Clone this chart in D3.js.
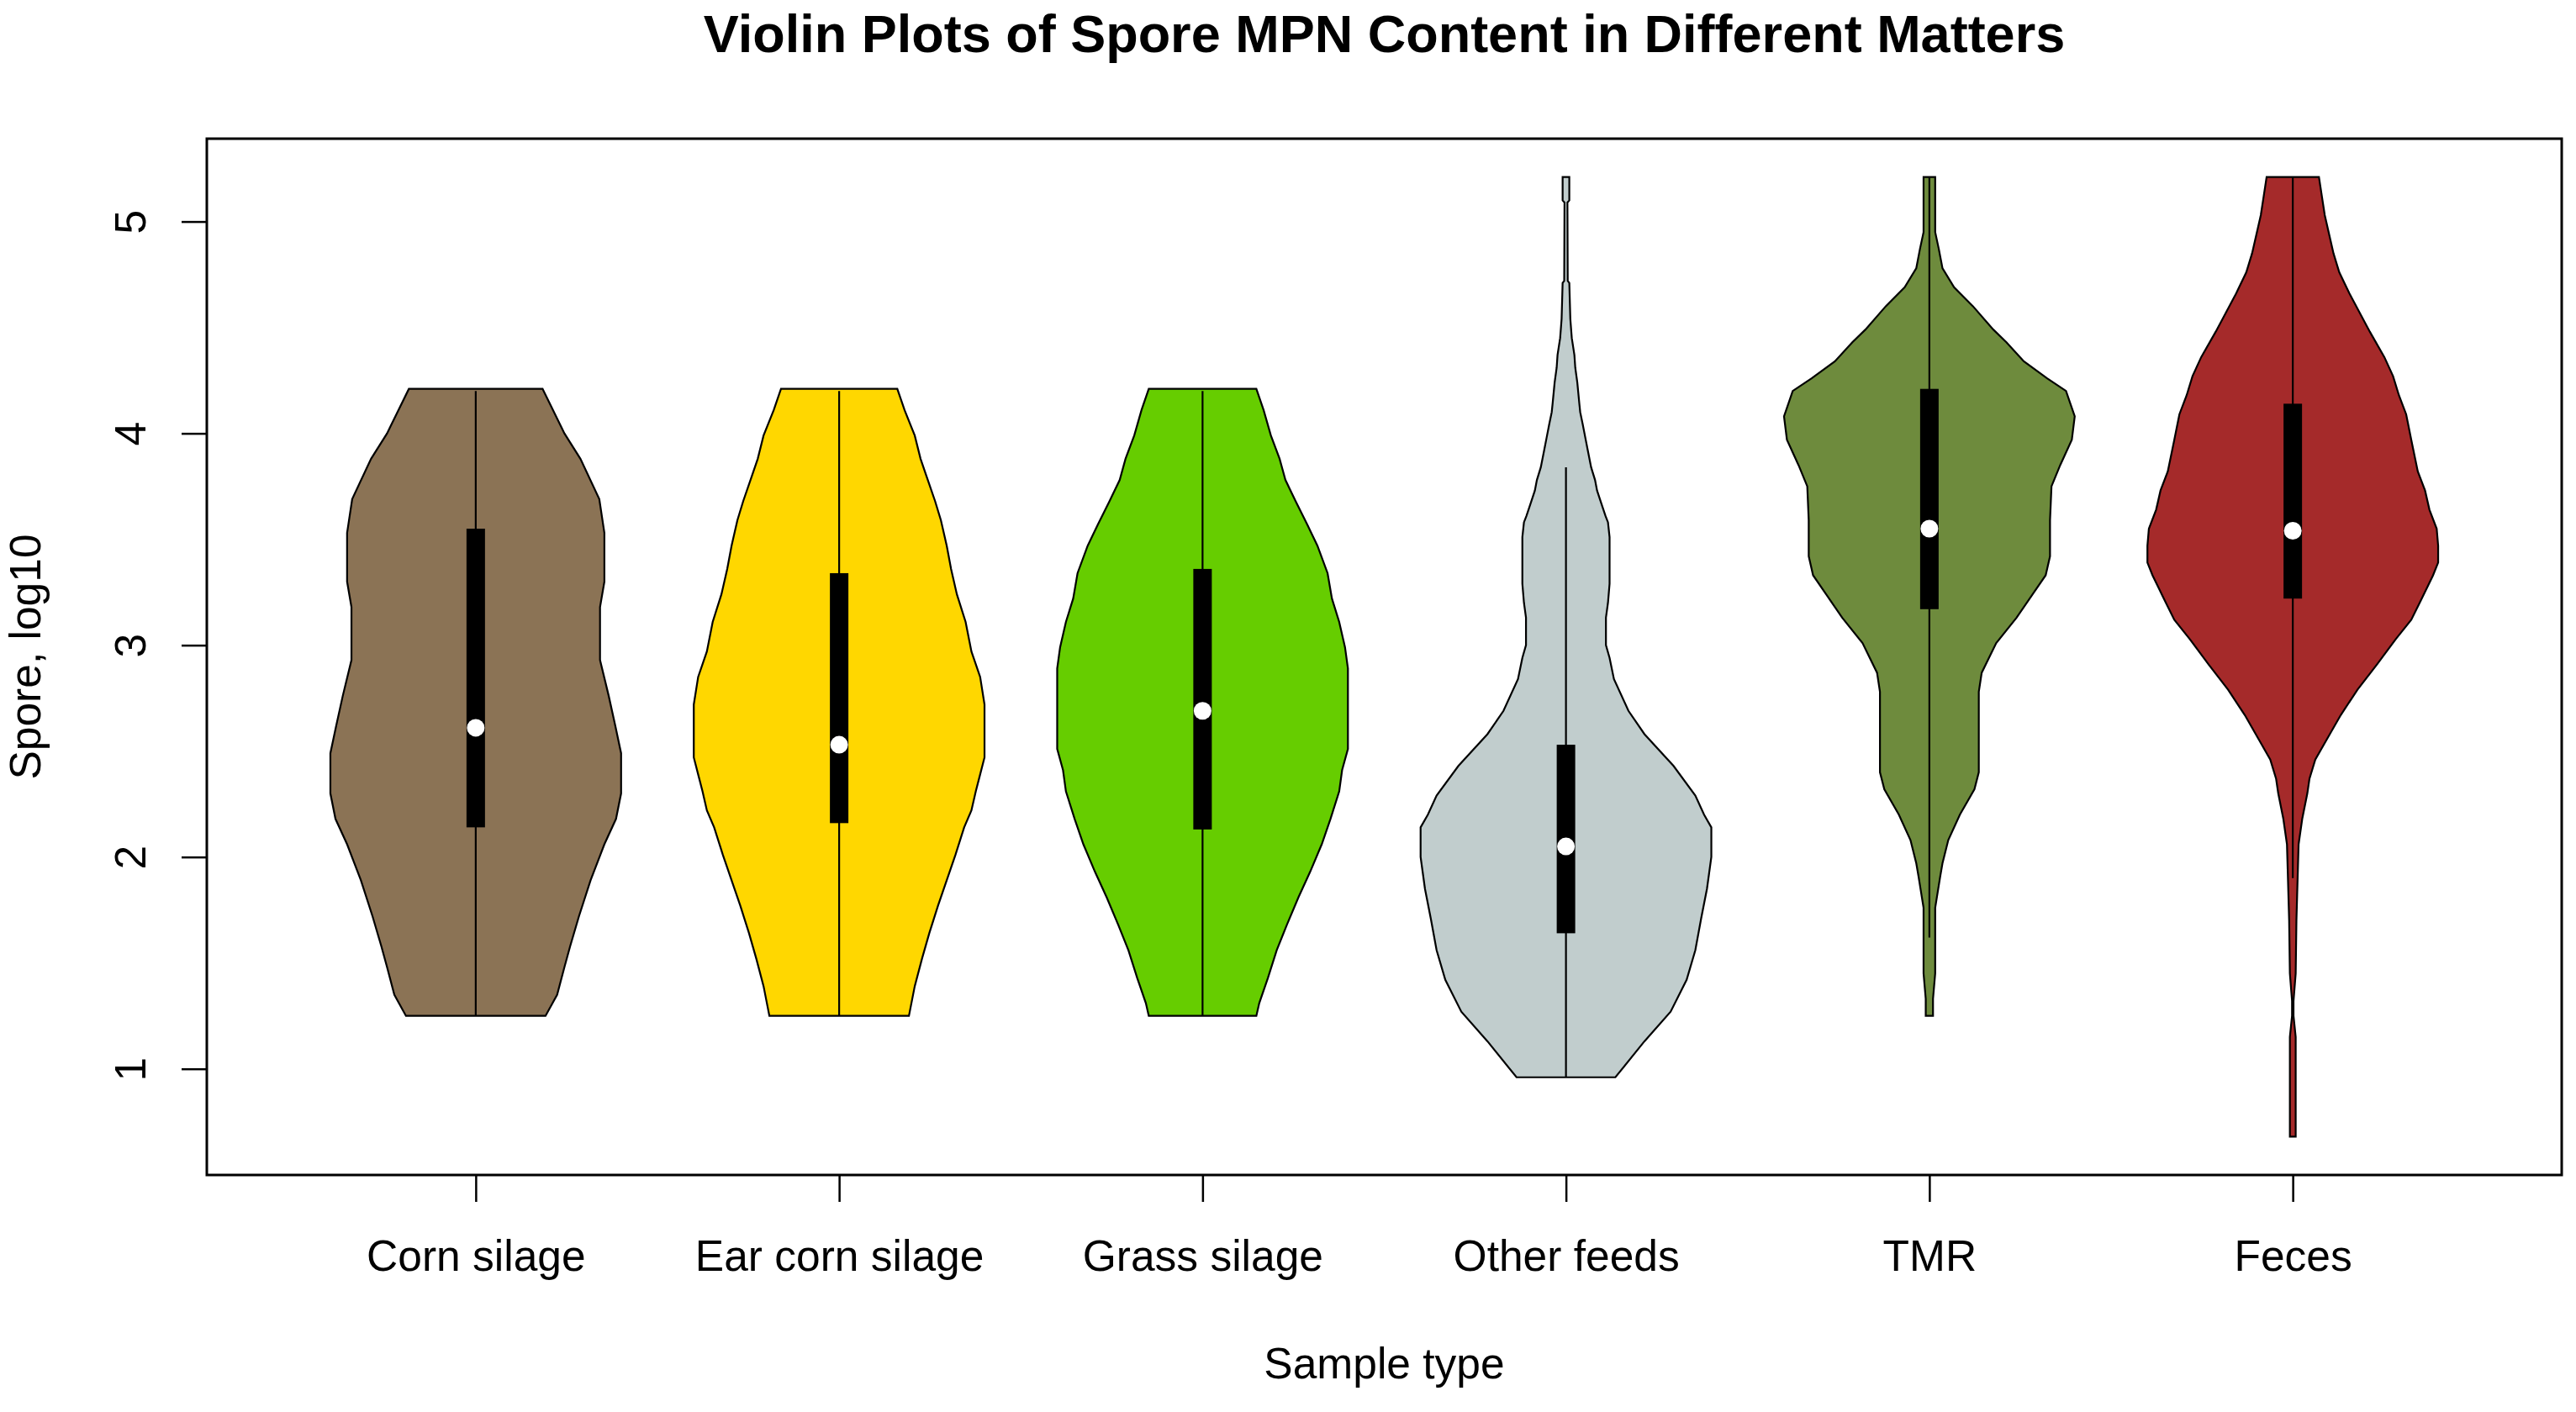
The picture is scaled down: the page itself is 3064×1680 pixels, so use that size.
<!DOCTYPE html>
<html>
<head>
<meta charset="utf-8">
<script src="https://cdn.jsdelivr.net/npm/d3@7"></script>
<style>
  html, body { margin: 0; padding: 0; background: #ffffff; }
  svg { display: block; font-family: "Liberation Sans", Arial, sans-serif; }
</style>
</head>
<body>
<svg id="chart" width="3064" height="1680"></svg>
<script>
// ---------------- data ----------------
const categories = ["Corn silage", "Ear corn silage", "Grass silage", "Other feeds", "TMR", "Feces"];
const colors = ["#8B7355", "#FFD700", "#66CD00", "#C1CDCD", "#6E8B3D", "#A52A2A"];

// box statistics (log10 spore MPN)
const medians   = [2.61, 2.53, 2.69, 2.05, 3.55, 3.54];
const q1s       = [2.14, 2.16, 2.13, 1.64, 3.17, 3.22];
const q3s       = [3.55, 3.34, 3.36, 2.53, 4.21, 4.14];
const whiskerLo = [1.25, 1.25, 1.25, 0.96, 1.62, 1.90];
const whiskerHi = [4.20, 4.20, 4.20, 3.84, 5.21, 5.21];

// density profiles: [value, relative half-width]
const densityCornSilage = [[4.21,0.46],[4.00,0.61],[3.88,0.72],[3.69,0.85],[3.53,0.885],[3.30,0.885],[3.18,0.855],
  [2.93,0.855],[2.76,0.915],[2.62,0.96],[2.49,1.0],[2.30,1.0],[2.18,0.965],[2.06,0.885],[1.89,0.79],[1.72,0.71],
  [1.58,0.65],[1.48,0.61],[1.35,0.56],[1.25,0.48]];
const densityEarCornSilage = [[4.21,0.40],[4.11,0.45],[3.99,0.52],[3.88,0.56],[3.80,0.60],[3.68,0.66],[3.59,0.70],
  [3.47,0.74],[3.36,0.77],[3.24,0.81],[3.11,0.87],[2.97,0.91],[2.85,0.97],[2.72,1.0],[2.60,1.0],[2.47,1.0],[2.39,0.97],
  [2.31,0.94],[2.22,0.91],[2.14,0.86],[2.01,0.80],[1.89,0.74],[1.77,0.68],[1.64,0.62],[1.52,0.57],[1.39,0.52],[1.25,0.48]];
const densityGrassSilage = [[4.21,0.37],[4.11,0.42],[3.99,0.47],[3.88,0.53],[3.78,0.57],[3.68,0.64],[3.57,0.72],
  [3.47,0.79],[3.34,0.86],[3.22,0.89],[3.11,0.94],[2.99,0.98],[2.89,1.0],[2.70,1.0],[2.51,1.0],[2.41,0.96],[2.31,0.94],
  [2.18,0.88],[2.06,0.82],[1.93,0.74],[1.81,0.66],[1.68,0.58],[1.56,0.51],[1.43,0.45],[1.31,0.39],[1.25,0.37]];
const densityOtherFeeds = [[5.21,0.023],[5.10,0.023],[5.09,0.010],[4.72,0.012],[4.71,0.023],[4.54,0.03],[4.45,0.04],
  [4.37,0.058],[4.31,0.064],[4.24,0.078],[4.14,0.092],[4.10,0.098],[4.04,0.116],[3.98,0.133],[3.92,0.15],[3.84,0.173],
  [3.78,0.20],[3.73,0.214],[3.67,0.243],[3.61,0.272],[3.58,0.289],[3.51,0.30],[3.29,0.30],[3.20,0.289],[3.13,0.275],
  [3.00,0.275],[2.94,0.30],[2.84,0.33],[2.69,0.43],[2.58,0.54],[2.43,0.74],[2.29,0.89],[2.20,0.95],[2.14,1.0],
  [2.00,1.0],[1.85,0.97],[1.71,0.93],[1.56,0.89],[1.42,0.83],[1.27,0.72],[1.13,0.54],[0.96,0.34]];
const densityTMR = [[5.21,0.04],[4.95,0.04],[4.87,0.065],[4.78,0.09],[4.69,0.17],[4.60,0.30],[4.49,0.44],[4.43,0.53],
  [4.34,0.65],[4.26,0.81],[4.20,0.94],[4.08,1.0],[3.97,0.98],[3.85,0.90],[3.75,0.84],[3.59,0.83],[3.42,0.83],[3.33,0.80],
  [3.24,0.71],[3.13,0.60],[3.01,0.46],[2.87,0.36],[2.78,0.34],[2.40,0.34],[2.32,0.31],[2.20,0.21],[2.08,0.13],
  [1.97,0.09],[1.91,0.075],[1.76,0.04],[1.56,0.04],[1.45,0.04],[1.33,0.025],[1.25,0.025]];
const densityFeces = [[5.21,0.18],[5.12,0.20],[5.03,0.22],[4.94,0.25],[4.85,0.28],[4.76,0.32],[4.66,0.39],[4.57,0.46],
  [4.48,0.53],[4.36,0.63],[4.27,0.69],[4.18,0.73],[4.09,0.78],[3.97,0.815],[3.82,0.86],[3.73,0.91],[3.64,0.94],
  [3.55,0.99],[3.47,1.0],[3.39,1.0],[3.33,0.965],[3.21,0.88],[3.12,0.815],[3.03,0.71],[2.91,0.58],[2.79,0.445],
  [2.67,0.33],[2.55,0.23],[2.46,0.155],[2.37,0.115],[2.30,0.10],[2.18,0.065],[2.06,0.04],[1.94,0.035],[1.82,0.03],
  [1.70,0.025],[1.45,0.02],[1.32,0.005],[1.25,0.005],[1.15,0.02],[0.79,0.02],[0.68,0.02]];
const densities = [densityCornSilage, densityEarCornSilage, densityGrassSilage, densityOtherFeeds, densityTMR, densityFeces];

const yTickValues = [1, 2, 3, 4, 5];
const titleText = "Violin Plots of Spore MPN Content in Different Matters";
const xTitle = "Sample type";
const yTitle = "Spore, log10";

// ---------------- layout ----------------
const W = 3064, H = 1680;
const plot = { left: 246, top: 165, right: 3047, bottom: 1398 };
const FONT = 51.5;

const svg = d3.select("#chart");

// R-like 4% axis expansion
const n = categories.length;
const xPad = n * 0.04;
const x = d3.scaleLinear().domain([0.5 - xPad, n + 0.5 + xPad]).range([plot.left, plot.right]);
const allVals = densities.flat().map(d => d[0]);
const yMin = d3.min(allVals), yMax = d3.max(allVals);
const yPad = (yMax - yMin) * 0.04;
const y = d3.scaleLinear().domain([yMin - yPad, yMax + yPad]).range([plot.bottom, plot.top]);

const maxHalf = 0.4 * (x(2) - x(1));

// ---------------- violins ----------------
const g = svg.append("g");
densities.forEach((dens, i) => {
  const cx = x(i + 1);
  const area = d3.area()
    .y(d => y(d[0]))
    .x0(d => cx - d[1] * maxHalf)
    .x1(d => cx + d[1] * maxHalf)
    .curve(d3.curveLinear);
  g.append("path")
    .attr("d", area(dens))
    .attr("fill", colors[i])
    .attr("stroke", "#000")
    .attr("stroke-width", 2.2)
    .attr("stroke-linejoin", "miter");
  g.append("line")
    .attr("x1", cx).attr("x2", cx)
    .attr("y1", y(whiskerLo[i])).attr("y2", y(whiskerHi[i]))
    .attr("stroke", "#000").attr("stroke-width", 2.2);
  g.append("rect")
    .attr("x", cx - 11).attr("width", 22)
    .attr("y", y(q3s[i])).attr("height", y(q1s[i]) - y(q3s[i]))
    .attr("fill", "#000");
  g.append("circle")
    .attr("cx", cx).attr("cy", y(medians[i])).attr("r", 10.5)
    .attr("fill", "#fff");
});

// ---------------- axes ----------------
const yAxis = svg.append("g")
  .attr("transform", `translate(${plot.left},0)`)
  .call(d3.axisLeft(y).tickValues(yTickValues).tickSize(30).tickFormat(d3.format("d")));
yAxis.select(".domain").remove();
yAxis.selectAll(".tick line").attr("stroke", "#000").attr("stroke-width", 2.5);
yAxis.selectAll(".tick text")
  .attr("x", null).attr("dy", null)
  .attr("text-anchor", "middle")
  .attr("transform", "translate(-73,0) rotate(-90)")
  .attr("font-size", FONT)
  .attr("font-family", "Liberation Sans, Arial, sans-serif")
  .attr("fill", "#000");

const xAxis = svg.append("g")
  .attr("transform", `translate(0,${plot.bottom})`)
  .call(d3.axisBottom(x).tickValues(d3.range(1, n + 1)).tickSize(32).tickFormat(d => categories[d - 1]));
xAxis.select(".domain").remove();
xAxis.selectAll(".tick line").attr("stroke", "#000").attr("stroke-width", 2.5);
xAxis.selectAll(".tick text")
  .attr("y", 114).attr("dy", null)
  .attr("font-size", FONT)
  .attr("font-family", "Liberation Sans, Arial, sans-serif")
  .attr("fill", "#000");

// plot frame
svg.append("rect")
  .attr("x", plot.left).attr("y", plot.top)
  .attr("width", plot.right - plot.left).attr("height", plot.bottom - plot.top)
  .attr("fill", "none").attr("stroke", "#000").attr("stroke-width", 3);

// ---------------- titles ----------------
const cxPlot = (plot.left + plot.right) / 2;
const cyPlot = (plot.top + plot.bottom) / 2;
svg.append("text")
  .attr("x", cxPlot).attr("y", 62)
  .attr("text-anchor", "middle")
  .attr("font-size", 63).attr("font-weight", "bold")
  .text(titleText);
svg.append("text")
  .attr("x", cxPlot).attr("y", 1640)
  .attr("text-anchor", "middle")
  .attr("font-size", FONT)
  .text(xTitle);
svg.append("text")
  .attr("transform", `translate(48,${cyPlot}) rotate(-90)`)
  .attr("text-anchor", "middle")
  .attr("font-size", FONT)
  .text(yTitle);
</script>
</body>
</html>
